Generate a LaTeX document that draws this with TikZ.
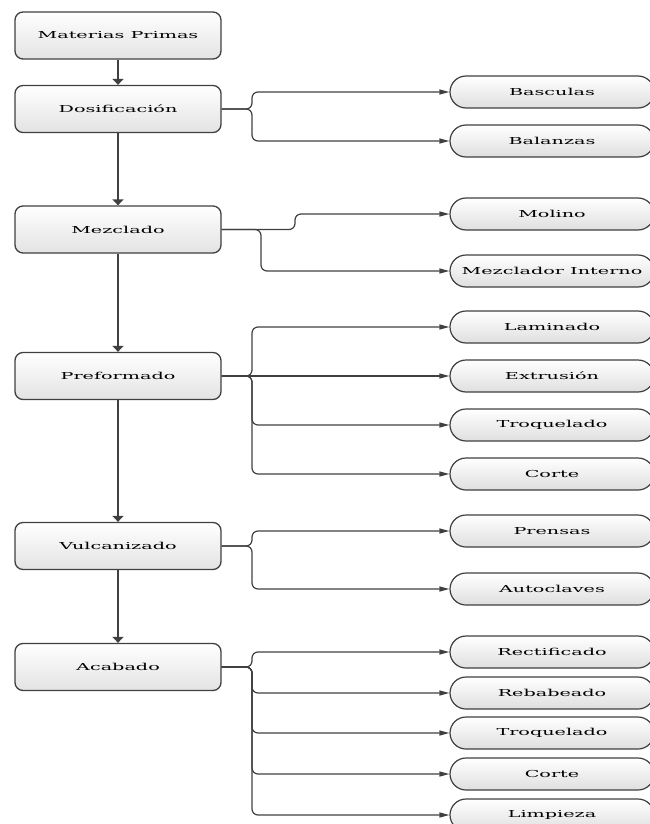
\documentclass[tikz,border=0pt]{standalone}
\usepackage{fontspec}
\setmainfont{DejaVu Serif}
\usetikzlibrary{arrows.meta}
\definecolor{linec}{HTML}{404040}
\newcommand{\wtxt}[1]{\scalebox{2.0}[1]{#1}}
\begin{document}
\begin{tikzpicture}[x=1pt,y=-1pt,
  proc/.style={draw=linec, line width=1.3pt, rounded corners=8pt, top color=white, bottom color=gray!22,
    minimum width=206pt, minimum height=47pt, inner sep=0pt, text=black, font=\fontsize{9.6}{12}\selectfont},
  opt/.style={draw=linec, line width=1.2pt, rounded corners=16pt, top color=white, bottom color=gray!25,
    minimum width=204pt, minimum height=32pt, inner sep=0pt, text=black, font=\fontsize{9.6}{12}\selectfont},
  flow/.style={draw=linec, line width=2pt, -{Triangle[length=6pt,width=11pt]}},
  branch/.style={draw=linec, line width=1.2pt, rounded corners=6pt, -{Triangle[length=10pt,width=5pt]}}]
\useasboundingbox (0,0) rectangle (649,824);
% main process boxes
\node[proc] (mp) at (118,35.5) {\wtxt{Materias Primas}};
\node[proc] (do) at (118,109) {\wtxt{Dosificación}};
\node[proc] (me) at (118,229.5) {\wtxt{Mezclado}};
\node[proc] (pr) at (118,376) {\wtxt{Preformado}};
\node[proc] (vu) at (118,546) {\wtxt{Vulcanizado}};
\node[proc] (ac) at (118,667) {\wtxt{Acabado}};
% options
\node[opt] (bas) at (552,92) {\wtxt{Basculas}};
\node[opt] (bal) at (552,141) {\wtxt{Balanzas}};
\node[opt] (mol) at (552,214) {\wtxt{Molino}};
\node[opt] (mzi) at (552,271) {\wtxt{Mezclador Interno}};
\node[opt] (lam) at (552,327) {\wtxt{Laminado}};
\node[opt] (ext) at (552,376) {\wtxt{Extrusión}};
\node[opt] (tro) at (552,425) {\wtxt{Troquelado}};
\node[opt] (cor) at (552,474) {\wtxt{Corte}};
\node[opt] (pre) at (552,531) {\wtxt{Prensas}};
\node[opt] (aut) at (552,589) {\wtxt{Autoclaves}};
\node[opt] (rec) at (552,652) {\wtxt{Rectificado}};
\node[opt] (reb) at (552,693) {\wtxt{Rebabeado}};
\node[opt] (tro2) at (552,733) {\wtxt{Troquelado}};
\node[opt] (cor2) at (552,774) {\wtxt{Corte}};
\node[opt] (lim) at (552,815) {\wtxt{Limpieza}};
% brace x positions
\coordinate (bx) at (252,0);
\coordinate (mx) at (295,0);
\coordinate (mx2) at (261,0);
% main flow
\draw[flow] (mp) -- (do);
\draw[flow] (do) -- (me);
\draw[flow] (me) -- (pr);
\draw[flow] (pr) -- (vu);
\draw[flow] (vu) -- (ac);
% branches
\draw[branch] (do.east) -- (do.east -| bx) |- (bas.west);
\draw[branch] (do.east) -- (do.east -| bx) |- (bal.west);
\draw[branch] (me.east) -- (me.east -| mx) |- (mol.west);
\draw[branch] (me.east) -- (me.east -| mx2) |- (mzi.west);
\draw[branch] (pr.east) -- (pr.east -| bx) |- (lam.west);
\draw[branch] (pr.east) -- (ext.west);
\draw[branch] (pr.east) -- (pr.east -| bx) |- (tro.west);
\draw[branch] (pr.east) -- (pr.east -| bx) |- (cor.west);
\draw[branch] (vu.east) -- (vu.east -| bx) |- (pre.west);
\draw[branch] (vu.east) -- (vu.east -| bx) |- (aut.west);
\draw[branch] (ac.east) -- (ac.east -| bx) |- (rec.west);
\draw[branch] (ac.east) -- (ac.east -| bx) |- (reb.west);
\draw[branch] (ac.east) -- (ac.east -| bx) |- (tro2.west);
\draw[branch] (ac.east) -- (ac.east -| bx) |- (cor2.west);
\draw[branch] (ac.east) -- (ac.east -| bx) |- (lim.west);
\end{tikzpicture}
\end{document}
